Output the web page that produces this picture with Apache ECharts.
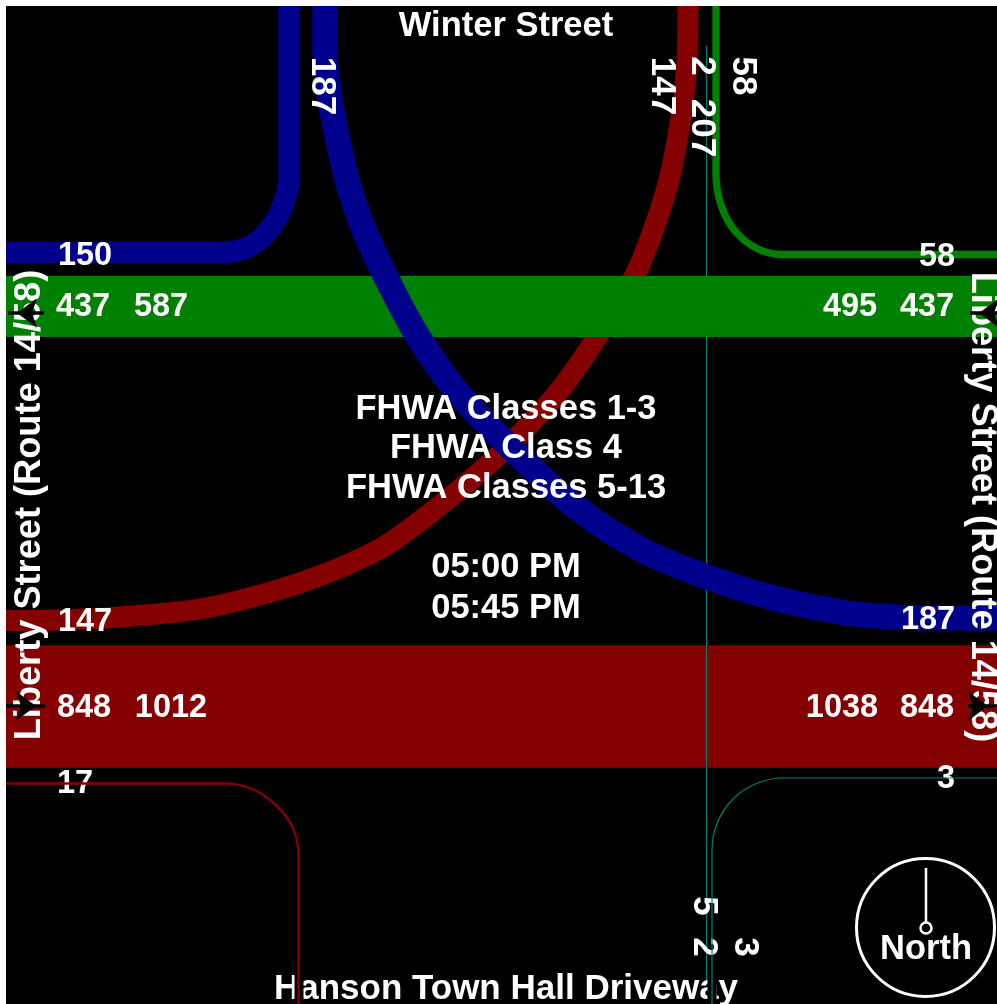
<!DOCTYPE html>
<html><head><meta charset="utf-8">
<style>html,body{margin:0;padding:0;background:#fff}#c{width:997px;height:1004px}</style>
<script src="https://cdn.jsdelivr.net/npm/echarts@6/dist/echarts.min.js"></script>
</head><body><div id="c"></div>
<script>
// Volumes (vehicles) per movement
const thruEastWest = [437, 848];
const leftFromWest = [150, 147];
const diagonalBlue = 187;
const rightTurns = [58, 17, 3];
const thruNorthSouth = 2;
const totals = {greenWest: 587, greenEast: 495, redWest: 1012, redEast: 1038, northTotal: 207, southA: 5, southB: 2};

// Paths (x, y in the diagram's frame)
const greenBandPath = [[6,306.5],[997,306.5]];
const redBandPath = [[6,706.5],[997,706.5]];
const blue150Path = [[6,252.5],[200,252.5],[222,252.5],[248,247],[269,230],[283,205],[289,178],[289,150],[289,6]];
const blue187Path = [[325,6],[325,50],[328,85],[333,117],[340,150],[347,180],[362,225],[385,275],[417,335],[458,393],[515,452],[573,505],[640,549],[707,577],[773,598],[840,612],[877,616],[930,618],[997,618]];
const red147Path = [[6,620.5],[60,620],[120,617],[200,609],[267,593],[327,573],[383,547],[433,511],[490,463],[527,427],[560,390],[595,340],[635,275],[655,225],[669,180],[681,117],[687,60],[688,6]];
const green58Path = [[997,254.5],[800,254.5],[782,254.5],[757,248.5],[735,231],[721,205],[716,175],[716,150],[716,6]];
const red17Path = [[6,783.5],[200,783.5],[224,783.5],[252,789],[275.6,805],[292.9,828],[298.5,856],[298.5,880],[298.5,1004]];
const teal3Path = [[997,778],[800,778],[784,778],[756.4,783.5],[733,799],[717.5,822.4],[712,850],[712,870],[712,1004]];
const teal2Path = [[706.5,46],[706.5,980]];
const needlePath = [[926,868],[926,922]];

// Arrows: tail, tip
const arrows = [[[44,313],[8,313]],[[997,313],[970,313]],[[6,706],[45,706]],[[968,706],[997,706]]];
const arrowRot = [90,90,-90,-90];

// Text
const titleTexts = ['Winter Street','FHWA Classes 1-3','FHWA Class 4','FHWA Classes 5-13','05:00 PM','05:45 PM','North'];
const titlePos = [[506,24],[506,407],[506,446],[506,486],[506,565],[506,606],[926,947]];
const driveTexts = ['Hanson Town Hall Driveway'];
const drivePos = [[506,987]];
const flatLabels = [leftFromWest[0],thruEastWest[0],totals.greenWest,totals.greenEast,thruEastWest[0],rightTurns[0],leftFromWest[1],thruEastWest[1],totals.redWest,totals.redEast,thruEastWest[1],diagonalBlue,rightTurns[1],rightTurns[2]];
const flatPos = [[85,254],[83,305],[161,305],[850,305],[927,305],[937,255],[85,620],[84,706],[171,706],[842,706],[927,706],[928,618],[75,782],[946,777]];
const cwLabels = [diagonalBlue,leftFromWest[1],thruNorthSouth,totals.northTotal,rightTurns[0],totals.southA,totals.southB,rightTurns[2]];
const cwPos = [[322,86],[662,86],[702,66],[702,128],[743,76],[704,906],[704,947],[745,947]];
const sideTexts = ['Liberty Street (Route 14/58)','Liberty Street (Route 14/58)'];
const sidePos = [[30,505],[982,507]];
const sideRot = [90,-90];

const FONT = '"Liberation Sans", Arial, sans-serif';
const C = {blue:'#00008c', red:'#850000', green:'#008000', teal:'#00806e'};
const W = v => Math.max(1.2, v / 7);

function path(name, data, color, width, z){
  return {name, type:'line', data, z, showSymbol:false, symbol:'none', smooth:0.33, silent:true,
    lineStyle:{color, width, cap:'butt', join:'round'}, itemStyle:{color}};
}
function straight(name, data, color, width, z){
  const s = path(name, data, color, width, z); s.smooth = false; return s;
}
function texts(name, labels, pos, rotate, size, z, off){
  return {name, type:'scatter', z, symbolSize:1, silent:true, itemStyle:{color:'transparent', opacity:1},
    data: labels.map((t,i)=>({value:pos[i], label:{show:true, position:'inside', formatter:String(t), opacity:1,
      rotate: Array.isArray(rotate)?rotate[i]:rotate, color:'#fff', fontFamily:FONT, fontWeight:'bold', fontSize:size,
      align:'center', verticalAlign:'middle', offset:off||[0,0]}}))};
}

const series = [
  straight('Eastbound through', redBandPath, C.red, W(thruEastWest[1]) + 1.5, 1),
  straight('North-south through', teal2Path, C.teal, 1.2, 2),
  path('147 left', red147Path, C.red, W(leftFromWest[1]), 3),
  straight('Westbound through', greenBandPath, C.green, W(thruEastWest[0]) - 1.5, 4),
  path('150 left', blue150Path, C.blue, W(leftFromWest[0]), 5),
  path('187 right', blue187Path, C.blue, W(diagonalBlue) - 1.5, 5),
  path('58 right', green58Path, C.green, W(rightTurns[0]) - 1, 5),
  texts('names', titleTexts, titlePos, 0, 34.5, 10, [0,2]),
  texts('driveway', driveTexts, drivePos, 0, 35, 10, [0,2]),
  texts('volumes', flatLabels, flatPos, 0, 32.5, 10, [0,2]),
  texts('volumes rotated', cwLabels, cwPos, -90, 35, 10),
  texts('side names', sideTexts, sidePos, sideRot, 36.2, 10),
  straight('gap 1', [[299,972],[299,1004]], '#000', 9, 11),
  straight('gap 2', [[712,972],[712,1004]], '#000', 9, 11),
  path('17 right', red17Path, C.red, W(rightTurns[1]), 12),
  path('3 right', teal3Path, C.teal, W(rightTurns[2]), 12),
  straight('needle', needlePath, '#fff', 2.5, 12),
  {name:'compass', type:'scatter', z:12, silent:true, symbol:'circle', symbolSize:138,
    itemStyle:{color:'rgba(0,0,0,0)', borderColor:'#fff', borderWidth:3, opacity:1}, data:[[925.5,927.5]]},
  {name:'compass hub', type:'scatter', z:13, silent:true, symbol:'circle', symbolSize:11,
    itemStyle:{color:'#000', borderColor:'#fff', borderWidth:2.5, opacity:1}, data:[[926,928]]}
];
arrows.forEach((a,i)=>{
  series.push({name:'arrow shaft '+i, type:'line', z:14, silent:true, symbol:'none', showSymbol:false,
    lineStyle:{color:'#000', width:3.5}, data:a});
  series.push({name:'arrow head '+i, type:'scatter', z:14, silent:true, symbol:'arrow', symbolSize:[22,20],
    symbolRotate:arrowRot[i], itemStyle:{color:'#000', opacity:1},
    data:[[a[1][0] + (a[1][0]<a[0][0]?9:-9), a[1][1]]]});
});

const chart = echarts.init(document.getElementById('c'), null, {renderer:'canvas'});
chart.setOption({
  animation:false, backgroundColor:'#fff', tooltip:{show:false}, legend:{show:false},
  grid:{left:6, top:6, right:0, bottom:0, show:true, backgroundColor:'#000', borderWidth:0},
  xAxis:{type:'value', min:6, max:997, show:false},
  yAxis:{type:'value', min:6, max:1004, inverse:true, show:false},
  series
});
</script></body></html>
